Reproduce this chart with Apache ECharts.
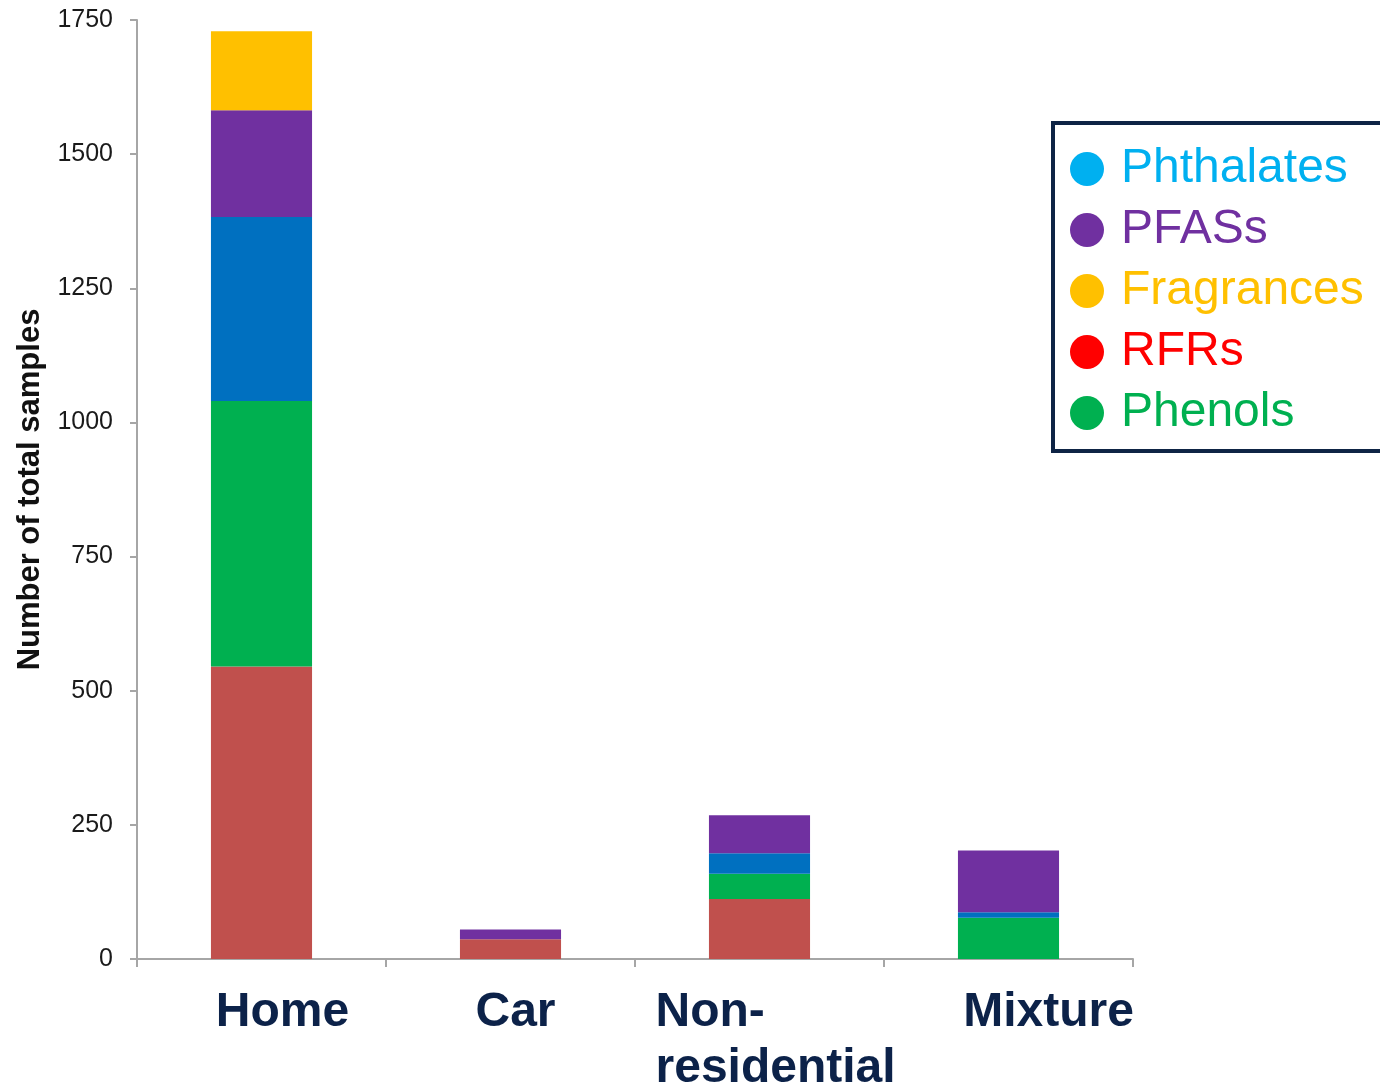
<!DOCTYPE html>
<html>
<head>
<meta charset="utf-8">
<script src="https://cdn.jsdelivr.net/npm/echarts@6/dist/echarts.min.js"></script>
<style>
  html, body { margin: 0; padding: 0; background: #ffffff; }
  #chart { width: 1380px; height: 1087px; }
</style>
</head>
<body>
<div id="chart"></div>
<script>
// Sample counts by environment type and compound class
const categories = ['Home', 'Car', 'Non-\nresidential', 'Mixture'];
const rfrs       = [545, 37, 112, 0];
const phenols    = [495, 0, 47, 77];
const phthalates = [343, 0, 38, 10];
const pfass      = [199, 18, 71, 115];
const fragrances = [147, 0, 0, 0];
const yTicks     = [0, 250, 500, 750, 1000, 1250, 1500, 1750];

// Legend order as listed in the key box
const legendOrder = ['Phthalates', 'PFASs', 'Fragrances', 'RFRs', 'Phenols'];

const barColors = {
  RFRs: '#C0504D', Phenols: '#00B050', Phthalates: '#0070C0',
  PFASs: '#7030A0', Fragrances: '#FFC000'
};
const keyColors = {
  Phthalates: '#00B0F0', PFASs: '#7030A0', Fragrances: '#FFC000',
  RFRs: '#FF0000', Phenols: '#00B050'
};

const FONT = '"Liberation Sans", Arial, sans-serif';
const chart = echarts.init(document.getElementById('chart'), null, { renderer: 'canvas' });

function stackSeries(name, values) {
  return {
    name: name,
    type: 'bar',
    stack: 'total',
    barWidth: '40.6%',
    data: values,
    itemStyle: { color: barColors[name] },
    emphasis: { disabled: true }
  };
}

chart.setOption({
  backgroundColor: '#ffffff',
  animation: false,
  textStyle: { fontFamily: FONT },
  grid: { left: 137, right: 247, top: 20, bottom: 128, containLabel: false },
  legend: {
    orient: 'vertical',
    left: 1053,
    top: 123,
    padding: [22, 60, 14, 17],
    borderColor: '#0E2445',
    borderWidth: 4,
    backgroundColor: '#ffffff',
    icon: 'circle',
    itemWidth: 34,
    itemHeight: 34,
    itemGap: 13,
    selectedMode: false,
    data: legendOrder.map(n => ({
      name: n,
      itemStyle: { color: keyColors[n] },
      textStyle: { color: keyColors[n] }
    })),
    textStyle: { fontSize: 48, fontFamily: FONT, lineHeight: 46, padding: [0, 0, 0, 12] }
  },
  xAxis: {
    type: 'category',
    data: categories,
    axisLine: { lineStyle: { color: '#A6A6A6', width: 2 } },
    axisTick: { show: true, alignWithLabel: false, length: 8, lineStyle: { color: '#A6A6A6', width: 2 } },
    axisLabel: { show: false },
    splitLine: { show: false }
  },
  yAxis: {
    type: 'value',
    min: 0,
    max: 1750,
    interval: 250,
    name: 'Number of total samples',
    nameLocation: 'middle',
    nameGap: 91,
    nameTextStyle: { fontSize: 31, fontWeight: 'bold', color: '#111111', fontFamily: FONT },
    axisLine: { show: true, lineStyle: { color: '#A6A6A6', width: 2 } },
    axisTick: { show: true, length: 7, lineStyle: { color: '#A6A6A6', width: 2 } },
    axisLabel: {
      fontSize: 25, color: '#1A1A1A', margin: 24, fontFamily: FONT,
      formatter: v => (yTicks.indexOf(v) >= 0 ? String(v) : '')
    },
    splitLine: { show: false }
  },
  series: [
    stackSeries('RFRs', rfrs),
    stackSeries('Phenols', phenols),
    stackSeries('Phthalates', phthalates),
    stackSeries('PFASs', pfass),
    stackSeries('Fragrances', fragrances)
  ]
});

// Category names set below the axis, each nudged from its band centre
const labelShift = [
  { dx: 21, align: 'center' },
  { dx: 5, align: 'center' },
  { dx: -104, align: 'left' },
  { dx: 40, align: 'center' }
];
const axisY = chart.convertToPixel({ yAxisIndex: 0 }, 0);
chart.setOption({
  graphic: categories.map((c, i) => {
    const cx = chart.convertToPixel({ xAxisIndex: 0 }, i);
    return {
      type: 'text',
      x: cx + labelShift[i].dx,
      y: axisY + 26,
      style: {
        text: c,
        fill: '#0C2249',
        font: 'bold 48px ' + FONT,
        align: labelShift[i].align,
        verticalAlign: 'top',
        lineHeight: 56
      }
    };
  })
});
</script>
</body>
</html>
